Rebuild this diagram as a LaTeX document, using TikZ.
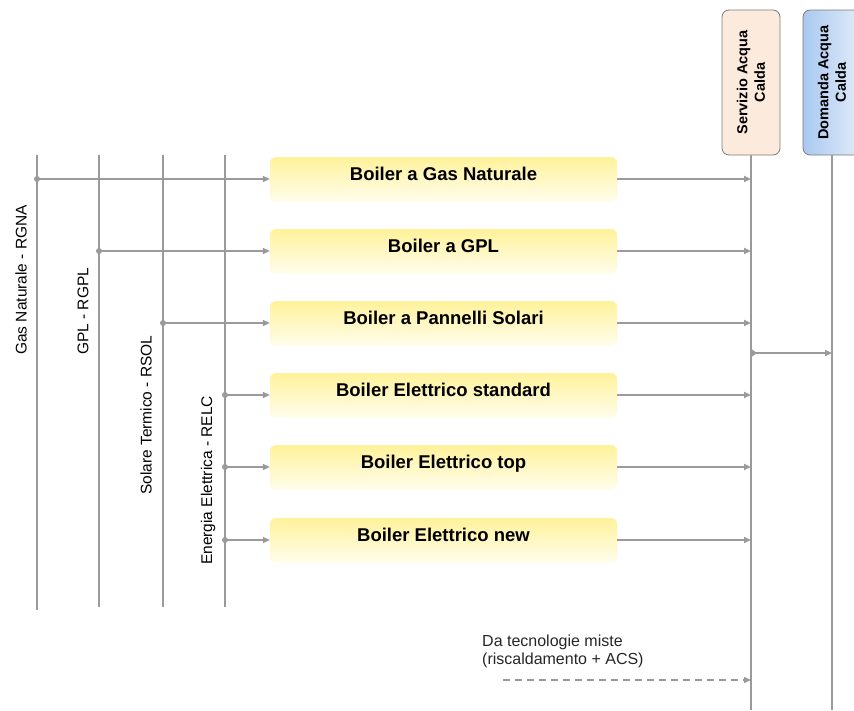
\documentclass[tikz,border=0pt]{standalone}
\usepackage{fontspec}
\setmainfont{Liberation Sans}
\usetikzlibrary{arrows.meta}
\definecolor{linegray}{HTML}{9A9A9A}
\definecolor{boxtop}{HTML}{FFF29A}
\definecolor{boxbot}{HTML}{FFFDEB}
\definecolor{srvfill}{HTML}{FCEBDD}
\definecolor{demleft}{HTML}{A9C8F0}
\definecolor{demright}{HTML}{E2ECF9}
\definecolor{frame}{HTML}{7A7A7A}
\tikzset{
  bus/.style={draw=linegray, line width=2.8pt},
  feed/.style={draw=linegray, line width=1.7pt, -{Triangle[length=7pt,width=6pt]}},
  junction/.style={circle, fill=linegray, inner sep=0pt, minimum size=6pt},
  boiler/.style={rounded corners=6pt, top color=boxtop, bottom color=boxbot,
    draw=boxtop!60!white, line width=0.3pt, minimum width=347pt, minimum height=44pt,
    font=\fontsize{18.5}{20}\selectfont\bfseries, text depth=10pt, inner sep=0pt},
  buslabel/.style={rotate=90, anchor=west, inner sep=0pt, font=\fontsize{15.5}{17}\selectfont},
  sink/.style={rounded corners=7pt, draw=frame, line width=0.8pt, rotate=90,
    minimum width=145pt, minimum height=58pt, align=center,
    font=\fontsize{14.5}{17.5}\selectfont\bfseries, inner sep=0pt}
}
\begin{document}
\begin{tikzpicture}[x=1pt,y=-1pt]
\useasboundingbox (0,0) rectangle (854,710);

% supply buses
\coordinate (gasT) at (37,155);   \coordinate (gasB) at (37,610);
\coordinate (gplT) at (99,155);   \coordinate (gplB) at (99,607);
\coordinate (solT) at (163,155);  \coordinate (solB) at (163,607);
\coordinate (eleT) at (225,155);  \coordinate (eleB) at (225,607);
\draw[bus] (gasT) -- (gasB);
\draw[bus] (gplT) -- (gplB);
\draw[bus] (solT) -- (solB);
\draw[bus] (eleT) -- (eleB);

\node[buslabel] (lgas) at (21,355) {Gas Naturale - RGNA};
\node[buslabel] (lgpl) at (83,355) {GPL - RGPL};
\node[buslabel] (lsol) at (146,495) {Solare Termico - RSOL};
\node[buslabel] (lele) at (208,565) {Energia Elettrica - RELC};

% boilers
\node[boiler] (b1) at (443.5,179) {Boiler a Gas Naturale};
\node[boiler] (b2) at (443.5,251) {Boiler a GPL};
\node[boiler] (b3) at (443.5,323) {Boiler a Pannelli Solari};
\node[boiler] (b4) at (443.5,395) {Boiler Elettrico standard};
\node[boiler] (b5) at (443.5,467) {Boiler Elettrico top};
\node[boiler] (b6) at (443.5,540) {Boiler Elettrico new};

% hot water service and demand
\node[sink, fill=srvfill] (srv) at (751,82.5) {Servizio Acqua\\Calda};
\node[sink, left color=demleft, right color=demright] (dem) at (832,82.5) {Domanda Acqua\\Calda};
\coordinate (srvB) at (srv.west |- 0,710);
\coordinate (demB) at (dem.west |- 0,710);
\draw[bus, line width=2.3pt] (srv.west) -- (srvB);
\draw[bus, line width=2.3pt] (dem.west) -- (demB);

% feeds from buses into boilers
\foreach \s/\b in {gasT/b1, gplT/b2, solT/b3, eleT/b4, eleT/b5, eleT/b6}{
  \node[junction] at (\s |- \b.west) {};
  \draw[feed] (\s |- \b.west) -- (\b.west);
  \draw[feed] (\b.east) -- (srv.west |- \b.east);
}

% service to demand
\coordinate (tap) at (srv.west |- 0,353);
\fill[linegray] (tap) ++(-1,-5) -- ++(7,5) -- ++(-7,5) -- cycle;
\draw[feed] (tap) -- (dem.west |- tap);

% mixed technologies
\node[font=\fontsize{16}{17.5}\selectfont, align=left, anchor=north west, inner sep=0pt,
      text=black!85] (mix) at (482,635) {Da tecnologie miste\\(riscaldamento + ACS)};
\coordinate (mixS) at (503,680);
\draw[feed, dashed, dash pattern=on 7pt off 5pt, line width=1.4pt] (mixS) -- (srv.west |- mixS);
\end{tikzpicture}
\end{document}
